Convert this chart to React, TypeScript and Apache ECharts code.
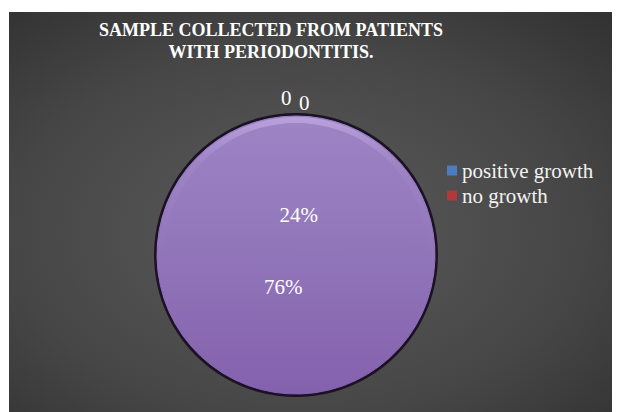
import React, { useEffect, useRef } from "react";
import * as echarts from "echarts";

const titleText = "SAMPLE COLLECTED FROM PATIENTS\nWITH PERIODONTITIS.";
const categories = ["positive growth", "no growth"];
const percentValues = [24, 76];
const zeroCategories = ["blank 1", "blank 2"];
const zeroValues = [0, 0];
const legendColors = ["#4a7cc2", "#b03a3a"];

const FONT = "'Liberation Serif', 'Times New Roman', serif";

export default function App() {
  const ref = useRef<HTMLDivElement>(null);
  useEffect(() => {
    if (!ref.current) return;
    const chart = echarts.init(ref.current, null, { renderer: "svg" });
    const cx = 288;
    const cy = 247;
    const R = 139;
    const pieFill = {
      type: "linear",
      global: true,
      x: 0,
      y: cy - R,
      x2: 0,
      y2: cy + R,
      colorStops: [
        { offset: 0, color: "#9d84c4" },
        { offset: 0.5, color: "#9175b9" },
        { offset: 1, color: "#8461ad" },
      ],
    };
    const percentOffsets = [
      [-47, 13],
      [37, -21],
    ];
    const zeroOffsets = [
      [-20, -14],
      [-2, -9],
    ];
    const mainData = [
      ...categories.map((name, i) => ({
        name,
        value: percentValues[i],
        label: {
          position: "inside",
          formatter: "{d}%",
          offset: percentOffsets[i],
        },
      })),
      ...zeroCategories.map((name, i) => ({
        name,
        value: zeroValues[i],
        label: {
          position: "outside",
          formatter: "{c}",
          offset: zeroOffsets[i],
        },
        labelLine: { show: false, length: 4, length2: 0 },
      })),
    ];
    chart.setOption({
      animation: false,
      backgroundColor: "transparent",
      graphic: [
        {
          type: "rect",
          z: -10,
          silent: true,
          shape: { x: 1, y: 4, width: 611, height: 400 },
          style: {
            fill: {
              type: "radial",
              x: 0.47,
              y: 0.55,
              r: 0.85,
              colorStops: [
                { offset: 0, color: "#5b5b5b" },
                { offset: 0.55, color: "#464646" },
                { offset: 1, color: "#2a2a2a" },
              ],
            },
          },
        },
      ],
      title: {
        text: titleText,
        left: 263,
        top: 11,
        padding: 0,
        textAlign: "center",
        textStyle: {
          fontFamily: FONT,
          fontSize: 18,
          fontWeight: "bold",
          lineHeight: 22,
          color: "#ffffff",
        },
      },
      legend: {
        orient: "vertical",
        left: 439,
        top: 152,
        padding: 0,
        itemWidth: 10,
        itemHeight: 10,
        itemGap: 4,
        itemTextGap: 10,
        icon: "rect",
        selectedMode: false,
        itemStyle: { borderWidth: 0 },
        data: categories.map((name, i) => ({
          name,
          itemStyle: { color: legendColors[i], borderWidth: 0 },
        })),
        textStyle: { fontFamily: FONT, fontSize: 21, color: "#f2f2f2" },
      },
      series: [
        {
          type: "pie",
          z: 1,
          silent: true,
          center: [cx, cy],
          radius: R + 3,
          label: { show: false },
          labelLine: { show: false },
          itemStyle: { color: "#1c1225" },
          data: [{ name: "outline", value: 1 }],
        },
        {
          type: "pie",
          z: 2,
          center: [cx, cy],
          radius: R,
          startAngle: 90,
          clockwise: true,
          avoidLabelOverlap: false,
          silent: true,
          itemStyle: { color: pieFill, borderColor: pieFill, borderWidth: 1 },
          label: {
            show: true,
            color: "#ffffff",
            fontFamily: FONT,
            fontSize: 21,
          },
          labelLine: { show: false },
          data: mainData,
        },
        {
          type: "pie",
          z: 3,
          silent: true,
          center: [cx, cy],
          radius: [R - 7, R - 1],
          label: { show: false },
          labelLine: { show: false },
          itemStyle: {
            color: {
              type: "linear",
              global: true,
              x: 0,
              y: cy - R,
              x2: 0,
              y2: cy,
              colorStops: [
                { offset: 0, color: "rgba(220,200,250,0.45)" },
                { offset: 0.35, color: "rgba(200,180,240,0.1)" },
                { offset: 1, color: "rgba(200,180,240,0)" },
              ],
            },
          },
          data: [{ name: "rim", value: 1 }],
        },
      ],
    });
    return () => chart.dispose();
  }, []);
  return <div ref={ref} style={{ width: 612, height: 404 }} />;
}
